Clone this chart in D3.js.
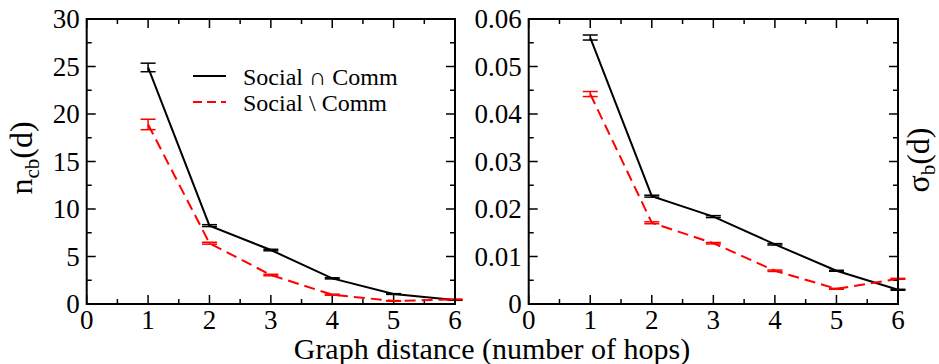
<!DOCTYPE html>
<html><head><meta charset="utf-8">
<script src="https://cdn.jsdelivr.net/npm/d3@7"></script>
<style>body{margin:0;background:#fff;} svg text, svg tspan{font-family:"Liberation Serif", "Times New Roman", serif !important;}</style>
</head><body>
<svg id="c" width="939" height="364"></svg>
<script>
const hops = [1, 2, 3, 4, 5, 6];
const ncbSocialAndComm = [24.9, 8.25, 5.68, 2.70, 1.05, 0.42];
const ncbSocialAndCommErr = [0.45, 0.1, 0.08, 0.06, 0.04, 0.03];
const ncbSocialMinusComm = [18.9, 6.4, 3.05, 0.98, 0.32, 0.49];
const ncbSocialMinusCommErr = [0.55, 0.1, 0.08, 0.06, 0.03, 0.03];
const sigmaSocialAndComm = [0.0561, 0.0227, 0.0184, 0.01256, 0.0070, 0.0030];
const sigmaSocialAndCommErr = [0.00053, 0.0002, 0.0002, 0.00015, 0.0001, 0.0001];
const sigmaSocialMinusComm = [0.0442, 0.0171, 0.0128, 0.0070, 0.0032, 0.0053];
const sigmaSocialMinusCommErr = [0.00053, 0.0002, 0.00015, 0.00015, 0.0001, 0.0001];
const xTicks = [0, 1, 2, 3, 4, 5, 6];
const ncbTicks = [0, 5, 10, 15, 20, 25, 30];
const sigmaTicks = [0, 0.01, 0.02, 0.03, 0.04, 0.05, 0.06];
const seriesNames = ["Social \u2229 Comm", "Social \\ Comm"];
const seriesColors = ["#000000", "#ff0000"];

const FONT = "'Liberation Serif', 'Times New Roman', serif";
const svg = d3.select("#c");
const plotTop = 19, plotBottom = 304;
function txt(sel) { return sel.append("text").attr("font-family", FONT).style("font-family", FONT); }

function panel(left, right, yMax, yTicks, yMinorStep, fmt, s1, e1, s2, e2) {
  const x = d3.scaleLinear().domain([0, 6]).range([left, right]);
  const y = d3.scaleLinear().domain([0, yMax]).range([plotBottom, plotTop]);
  const g = svg.append("g");
  const xMinor = d3.range(0.5, 6, 1);
  const yMinor = d3.range(yMinorStep, yMax, yMinorStep * 2);
  const tk = g.append("g").attr("stroke", "#000").attr("stroke-width", 1.5);
  const maj = 9, mnr = 5;
  xTicks.forEach(v => {
    tk.append("line").attr("x1", x(v)).attr("x2", x(v)).attr("y1", plotBottom).attr("y2", plotBottom - maj);
    tk.append("line").attr("x1", x(v)).attr("x2", x(v)).attr("y1", plotTop).attr("y2", plotTop + maj);
  });
  xMinor.forEach(v => {
    tk.append("line").attr("x1", x(v)).attr("x2", x(v)).attr("y1", plotBottom).attr("y2", plotBottom - mnr);
    tk.append("line").attr("x1", x(v)).attr("x2", x(v)).attr("y1", plotTop).attr("y2", plotTop + mnr);
  });
  yTicks.forEach(v => {
    tk.append("line").attr("y1", y(v)).attr("y2", y(v)).attr("x1", left).attr("x2", left + maj);
    tk.append("line").attr("y1", y(v)).attr("y2", y(v)).attr("x1", right).attr("x2", right - maj);
  });
  yMinor.forEach(v => {
    tk.append("line").attr("y1", y(v)).attr("y2", y(v)).attr("x1", left).attr("x2", left + mnr);
    tk.append("line").attr("y1", y(v)).attr("y2", y(v)).attr("x1", right).attr("x2", right - mnr);
  });
  xTicks.forEach(v => txt(g).attr("x", x(v)).attr("y", 329).attr("text-anchor", "middle").attr("font-size", 27).text(v));
  yTicks.forEach(v => txt(g).attr("x", left - 7).attr("y", y(v) + 9).attr("text-anchor", "end").attr("font-size", 27).text(fmt(v)));
  const line = d3.line().x((d, i) => x(hops[i])).y(d => y(d));
  [[s1, e1, 0], [s2, e2, 1]].forEach(([s, e, k]) => {
    const col = seriesColors[k];
    const eg = g.append("g").attr("stroke", col).attr("stroke-width", 1.5);
    s.forEach((v, i) => {
      const xx = x(hops[i]);
      eg.append("line").attr("x1", xx).attr("x2", xx).attr("y1", y(v - e[i])).attr("y2", y(v + e[i]));
      eg.append("line").attr("x1", xx - 7.5).attr("x2", xx + 7.5).attr("y1", y(v - e[i])).attr("y2", y(v - e[i]));
      eg.append("line").attr("x1", xx - 7.5).attr("x2", xx + 7.5).attr("y1", y(v + e[i])).attr("y2", y(v + e[i]));
    });
    g.append("path").attr("d", line(s)).attr("fill", "none").attr("stroke", col)
      .attr("stroke-width", 2).attr("stroke-dasharray", k ? "11,6" : null);
  });
  g.append("rect").attr("x", left).attr("y", plotTop).attr("width", right - left).attr("height", plotBottom - plotTop)
    .attr("fill", "none").attr("stroke", "#000").attr("stroke-width", 2);
}

panel(86.7, 455, 30, ncbTicks, 2.5, d => String(d), ncbSocialAndComm, ncbSocialAndCommErr, ncbSocialMinusComm, ncbSocialMinusCommErr);
panel(528.7, 898, 0.06, sigmaTicks, 0.005, d => d === 0 ? "0" : d3.format(".2f")(d), sigmaSocialAndComm, sigmaSocialAndCommErr, sigmaSocialMinusComm, sigmaSocialMinusCommErr);

seriesNames.forEach((n, k) => {
  const yy = 76 + k * 26;
  svg.append("line").attr("x1", 193).attr("x2", 226).attr("y1", yy).attr("y2", yy)
    .attr("stroke", seriesColors[k]).attr("stroke-width", 2).attr("stroke-dasharray", k ? "9,5" : null);
  txt(svg).attr("x", 243).attr("y", yy + 9).attr("font-size", 24).text(n);
});

const yl = txt(svg).attr("transform", "translate(32,158) rotate(-90)").attr("text-anchor", "middle").attr("font-size", 32);
yl.append("tspan").text("n");
yl.append("tspan").attr("font-size", 21).attr("dy", 7).text("cb");
yl.append("tspan").attr("dy", -7).text("(d)");
const yr = txt(svg).attr("transform", "translate(929,160) rotate(-90)").attr("text-anchor", "middle").attr("font-size", 32);
yr.append("tspan").text("\u03c3");
yr.append("tspan").attr("font-size", 21).attr("dy", 6).text("b");
yr.append("tspan").attr("dy", -6).text("(d)");
txt(svg).attr("x", 492).attr("y", 359).attr("text-anchor", "middle").attr("font-size", 30)
  .text("Graph distance (number of hops)");
</script>
</body></html>
